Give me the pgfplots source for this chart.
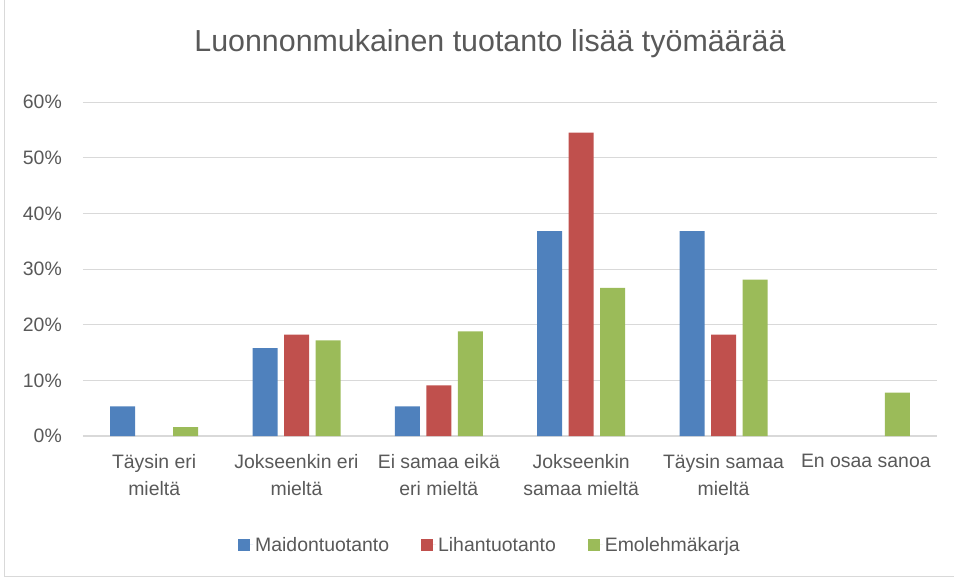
\documentclass[border=0pt]{standalone}
\usepackage{fontspec}
\setmainfont{Liberation Sans}
\usepackage{pgfplots}
\pgfplotsset{compat=1.18}
\definecolor{cblue}{HTML}{4F81BD}
\definecolor{cred}{HTML}{C0504D}
\definecolor{cgreen}{HTML}{9BBB59}
\definecolor{cgrid}{HTML}{D9D9D9}
\definecolor{ctext}{HTML}{595959}
\begin{document}
\begin{tikzpicture}
\path[use as bounding box] (-83bp,-143bp) rectangle (871bp,436bp);
\draw[cgrid, line width=1bp] (-78bp,436bp) -- (-78bp,-140bp) -- (871bp,-140bp);
\begin{axis}[
  scale only axis,
  width=854bp, height=334bp,
  ybar=6.5bp, bar width=25bp,
  xmin=-0.5, xmax=5.5,
  ymin=0, ymax=60,
  ytick={0,10,...,60},
  yticklabel={\pgfmathprintnumber{\tick}\%},
  xtick={0,1,2,3,4,5},
  xticklabels={{Täysin eri\\mieltä},{Jokseenkin eri\\mieltä},{Ei samaa eikä\\eri mieltä},{Jokseenkin\\samaa mieltä},{Täysin samaa\\mieltä},{En osaa sanoa}},
  /pgf/number format/assume math mode=true,
  major tick length=0pt,
  axis line style={draw=none},
  ymajorgrids, grid style={cgrid, line width=1bp},
  extra y ticks={0}, extra y tick labels={},
  extra y tick style={grid style={cgrid, line width=1.2bp}},
  tick label style={font=\fontsize{19.5}{27}\selectfont, text=ctext},
  yticklabel style={inner sep=0pt, xshift=-21bp},
  xticklabel style={inner sep=0pt, yshift=-18bp, align=center},
  title={Luonnonmukainen tuotanto lisää työmäärää},
  title style={font=\fontsize{30.5}{34}\selectfont, text=ctext, at={(0.4766,1.1557)}, anchor=center, inner sep=0pt},
  legend columns=3,
  legend style={draw=none, at={(0.4766,-0.326)}, anchor=center, font=\fontsize{19.5}{24}\selectfont, text=ctext, /tikz/every even column/.append style={column sep=30bp}},
  legend image code/.code={\fill[#1] (0bp,-6bp) rectangle (12bp,6bp); \path (0bp,0bp) -- (15bp,0bp);},
  clip=false,
]
\addplot[fill=cblue, draw=none] coordinates {(0,5.3) (1,15.8) (2,5.3) (3,36.8) (4,36.8)};
\addplot[fill=cred, draw=none] coordinates {(1,18.2) (2,9.1) (3,54.5) (4,18.2)};
\addplot[fill=cgreen, draw=none] coordinates {(0,1.6) (1,17.2) (2,18.8) (3,26.6) (4,28.1) (5,7.8)};
\legend{Maidontuotanto,Lihantuotanto,Emolehmäkarja}
\end{axis}
\end{tikzpicture}
\end{document}
